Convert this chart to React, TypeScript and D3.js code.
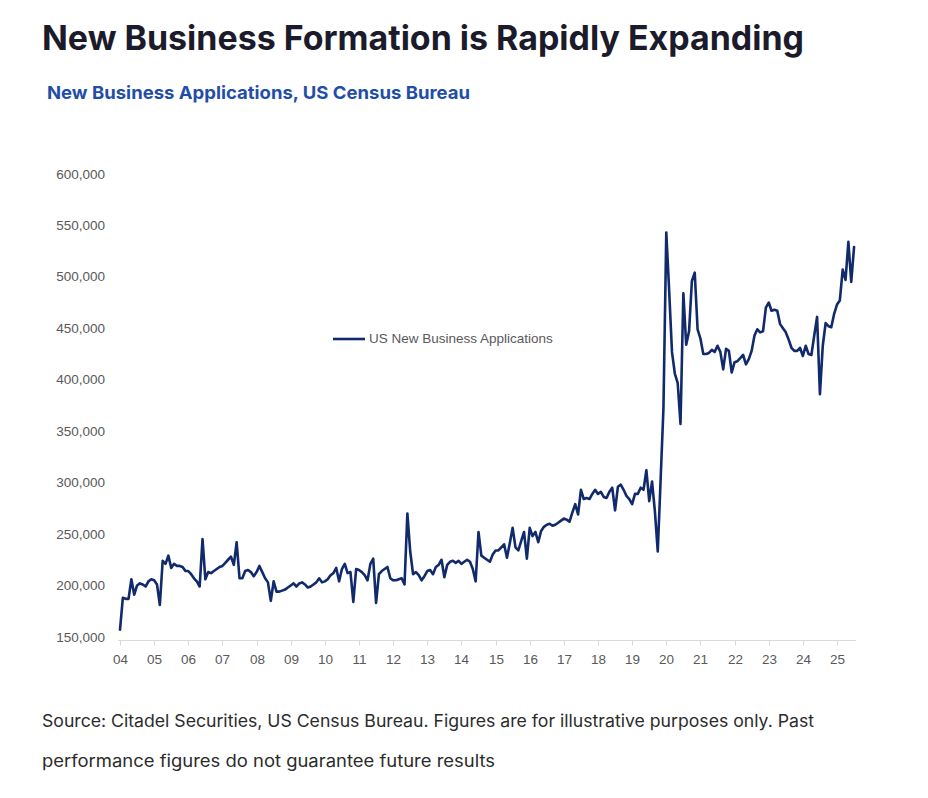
import * as d3 from "d3";
import React from "react";

// monthly new business applications, one array per axis year (label sits on the first month)
const y04 = [160000, 191000, 190000, 190000, 209000, 194000, 203000, 205000, 204000, 202000, 207000, 209000];
const y05 = [208000, 204000, 184000, 227000, 224000, 232000, 220000, 224000, 222000, 222000, 221000, 217000];
const y06 = [217000, 214000, 210000, 207000, 202000, 248000, 209000, 216000, 215000, 217000, 219000, 221000];
const y07 = [222000, 225000, 228000, 231000, 223000, 245000, 210000, 210000, 217000, 218000, 216000, 212000];
const y08 = [216000, 222000, 216000, 210000, 206000, 188000, 207000, 197000, 197000, 198000, 199000, 201000];
const y09 = [203000, 205000, 202000, 205000, 206000, 204000, 201000, 202000, 204000, 206000, 210000, 206000];
const y10 = [207000, 209000, 213000, 215000, 220000, 207000, 219000, 224000, 215000, 216000, 187000, 219000];
const y11 = [218000, 216000, 213000, 208000, 224000, 229000, 186000, 214000, 217000, 219000, 221000, 210000];
const y12 = [208000, 208000, 209000, 210000, 204000, 273000, 236000, 214000, 216000, 213000, 208000, 212000];
const y13 = [217000, 218000, 214000, 221000, 223000, 228000, 211000, 223000, 226000, 227000, 225000, 227000];
const y14 = [224000, 226000, 228000, 226000, 219000, 207000, 255000, 232000, 230000, 228000, 226000, 233000];
const y15 = [237000, 237000, 240000, 243000, 230000, 244000, 259000, 240000, 237000, 246000, 255000, 229000];
const y16 = [259000, 251000, 255000, 245000, 256000, 260000, 262000, 263000, 261000, 262000, 264000, 266000];
const y17 = [268000, 267000, 265000, 274000, 282000, 272000, 296000, 287000, 288000, 287000, 292000, 296000];
const y18 = [292000, 294000, 289000, 288000, 294000, 298000, 276000, 299000, 301000, 296000, 290000, 287000];
const y19 = [282000, 292000, 292000, 298000, 296000, 315000, 285000, 304000, 275000, 236000, 305000, 375000];
const y20 = [546000, 490000, 430000, 409000, 400000, 360000, 487000, 437000, 450000, 499000, 507000, 452000];
const y21 = [443000, 428000, 428000, 429000, 432000, 430000, 436000, 430000, 413000, 433000, 431000, 410000];
const y22 = [420000, 421000, 424000, 427000, 418000, 423000, 431000, 446000, 452000, 449000, 450000, 473000];
const y23 = [478000, 470000, 471000, 470000, 457000, 453000, 449000, 442000, 434000, 431000, 431000, 434000];
const y24 = [426000, 436000, 428000, 427000, 446000, 464000, 389000, 436000, 458000, 455000, 454000, 467000];
const y25 = [476000, 480000, 510000, 500000, 537000, 498000, 532000];

const applications = [
  ...y04, ...y05, ...y06, ...y07, ...y08, ...y09, ...y10, ...y11,
  ...y12, ...y13, ...y14, ...y15, ...y16, ...y17, ...y18, ...y19,
  ...y20, ...y21, ...y22, ...y23, ...y24, ...y25,
];

const yearLabels = ["04", "05", "06", "07", "08", "09", "10", "11", "12", "13", "14",
  "15", "16", "17", "18", "19", "20", "21", "22", "23", "24", "25"];
const yTicks = [150000, 200000, 250000, 300000, 350000, 400000, 450000, 500000, 550000, 600000];

const seriesName = "US New Business Applications";
const lineColor = "#112a6c";
const axisFont = "'Liberation Sans', Arial, sans-serif";
const textFont = "Inter, 'Noto Sans', sans-serif";

export default function App() {
  const width = 928;
  const height = 798;

  const x = d3.scaleLinear().domain([0, 252]).range([120, 837]);
  const y = d3.scaleLinear().domain([150000, 600000]).range([640, 177]);

  const line = d3
    .line<number>()
    .x((d, i) => x(i))
    .y((d) => y(d));

  const fmt = d3.format(",");

  return (
    <svg
      width={width}
      height={height}
      style={{ position: "absolute", left: 0, top: 0, background: "#fff" }}
    >
      <text
        x={42}
        y={50}
        fontFamily={textFont}
        fontWeight={700}
        fontSize={34}
        fill="#1b1b2b"
        textLength={762}
        lengthAdjust="spacingAndGlyphs"
      >
        New Business Formation is Rapidly Expanding
      </text>
      <text
        x={47}
        y={99}
        fontFamily={textFont}
        fontWeight={700}
        fontSize={18}
        fill="#1f4ea8"
        textLength={423}
        lengthAdjust="spacingAndGlyphs"
      >
        New Business Applications, US Census Bureau
      </text>

      {/* y axis labels */}
      {yTicks.map((t) => (
        <text
          key={t}
          x={105}
          y={y(t) - 2}
          textAnchor="end"
          dominantBaseline="middle"
          fontFamily={axisFont}
          fontSize={13.5}
          fill="#595959"
        >
          {fmt(t)}
        </text>
      ))}

      {/* x axis */}
      <line x1={118} x2={856} y1={640.5} y2={640.5} stroke="#d9d9d9" strokeWidth={1} />
      {yearLabels.map((lab, i) => (
        <g key={lab} transform={`translate(${Math.round(x(i * 12)) + 0.5},0)`}>
          <line y1={640.5} y2={645.5} stroke="#d9d9d9" strokeWidth={1} />
          <text
            y={660}
            textAnchor="middle"
            dominantBaseline="middle"
            fontFamily={axisFont}
            fontSize={13.5}
            fill="#595959"
          >
            {lab}
          </text>
        </g>
      ))}

      <path
        d={line(applications) ?? ""}
        fill="none"
        stroke={lineColor}
        strokeWidth={2.6}
        strokeLinejoin="round"
        strokeLinecap="round"
      />

      {/* legend */}
      <line x1={333} x2={365} y1={339} y2={339} stroke={lineColor} strokeWidth={2.6} />
      <text
        x={369}
        y={339}
        dominantBaseline="middle"
        fontFamily={axisFont}
        fontSize={13.5}
        fill="#595959"
      >
        {seriesName}
      </text>

      <text
        x={42}
        y={727}
        fontFamily={textFont}
        fontSize={17}
        fill="#2b2b2b"
        textLength={772}
        lengthAdjust="spacingAndGlyphs"
      >
        Source: Citadel Securities, US Census Bureau. Figures are for illustrative purposes only. Past
      </text>
      <text
        x={42}
        y={767}
        fontFamily={textFont}
        fontSize={17}
        fill="#2b2b2b"
        textLength={453}
        lengthAdjust="spacingAndGlyphs"
      >
        performance figures do not guarantee future results
      </text>
    </svg>
  );
}
